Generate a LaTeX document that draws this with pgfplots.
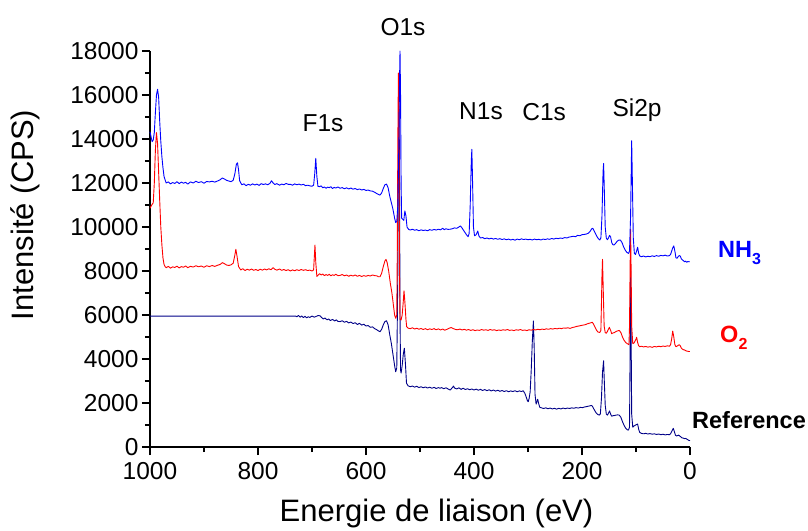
\documentclass[border=0pt]{standalone}
\usepackage{fontspec}
\setmainfont{Liberation Sans}
\usepackage{pgfplots}
\pgfplotsset{compat=1.18}
\definecolor{navyref}{RGB}{0,0,135}
\begin{document}
\begin{tikzpicture}
\begin{axis}[
  scale only axis, width=540pt, height=396pt,
  xmin=0, xmax=1000, ymin=0, ymax=18000,
  x dir=reverse,
  axis x line*=bottom, axis y line*=left,
  axis line style={line width=1.5pt,-},
  tick align=outside,
  xtick={0,200,...,1000}, ytick={0,2000,...,18000},
  minor x tick num=1, minor y tick num=1,
  major tick length=8pt, minor tick length=5pt,
  every tick/.style={line width=1.5pt,black},
  /pgf/number format/assume math mode=true,
  /pgf/number format/set thousands separator={},
  scaled ticks=false,
  tick label style={font=\fontsize{24.5}{28}\selectfont},
  xticklabel style={yshift=-4pt},
  xlabel={Energie de liaison (eV)},
  ylabel={Intensité (CPS)},
  label style={font=\fontsize{31}{36}\selectfont},
  xlabel style={at={(axis description cs:0.5306,-0.1667)},anchor=center},
  ylabel style={at={(axis description cs:-0.2315,0.586)},anchor=center},
  clip=false,
  every axis plot/.append style={line width=0.9pt, line join=round},
]
% Reference
\addplot[navyref] coordinates {
(1000,5950)(730,5950)(728,5920)(725,5980)(722,5900)(719,5960)(716,5880)(713,5940)(710,5870)(707,5920)(704,5890)(700,5950)(696,5900)(692,5940)(688,5980)(685,5960)(682,5880)(679,5820)(676,5860)(672,5780)(669,5820)(666,5750)(662,5800)(658,5730)(655,5780)(652,5710)(648,5700)(644,5740)(640,5670)(636,5710)(632,5640)(628,5680)(624,5610)(620,5650)(616,5570)(612,5620)(608,5540)(604,5580)(600,5500)(596,5520)(592,5440)(588,5460)(584,5380)(580,5330)(577,5280)(574,5240)(571,5350)(568,5550)(565,5700)(562,5740)(559,5550)(556,5100)(553,4700)(550,4200)(547,3700)(545,3420)(543,3600)(541,8000)(540,13000)(539,16000)(538,13000)(537,6000)(536,3500)(535,3360)(533,3700)(531,4200)(529,4490)(527,3800)(525,2900)(522,2780)(518,2740)(514,2770)(510,2720)(506,2760)(502,2700)(498,2740)(494,2690)(490,2730)(486,2680)(482,2720)(478,2670)(474,2710)(470,2660)(466,2700)(463,2670)(460,2700)(456,2650)(452,2690)(448,2640)(444,2590)(440,2700)(438,2770)(436,2680)(432,2640)(428,2690)(424,2620)(420,2670)(416,2610)(412,2650)(408,2600)(404,2640)(400,2590)(396,2630)(392,2580)(388,2620)(384,2570)(380,2610)(376,2560)(372,2600)(368,2550)(364,2590)(360,2540)(356,2580)(352,2530)(348,2570)(344,2520)(340,2560)(336,2510)(332,2550)(328,2520)(324,2560)(320,2510)(316,2550)(312,2520)(309,2560)(306,2450)(303,2250)(301,2100)(299.5,2060)(298,2200)(296,2500)(294,3500)(292,4800)(290,5730)(288.5,4500)(287,2400)(285,1950)(283,2100)(282,2170)(280,1950)(278,1800)(275,1780)(271,1750)(267,1780)(263,1740)(259,1770)(255,1730)(251,1760)(247,1720)(243,1760)(239,1730)(235,1770)(231,1740)(227,1770)(223,1750)(219,1780)(215,1760)(211,1790)(207,1770)(203,1800)(199,1790)(195,1820)(191,1840)(187,1860)(184,1880)(182,1890)(180,1820)(177,1680)(174,1560)(171,1480)(168,1450)(166,1500)(164,2200)(162,3400)(160,3920)(159,3200)(157,1900)(155,1500)(153,1450)(151,1530)(149,1640)(147,1500)(145,1400)(143,1420)(140,1430)(137,1450)(134,1460)(131,1450)(128,1350)(125,1150)(122,980)(119,850)(116,780)(114,770)(112,900)(111,4000)(110,8000)(109,5000)(108,1500)(106,900)(104,950)(102,980)(100,1010)(97,1045)(95,800)(93,660)(90,620)(86,600)(82,620)(78,590)(74,610)(70,580)(66,600)(62,570)(58,590)(54,560)(50,580)(46,550)(42,570)(38,560)(36,600)(34,700)(31,850)(29,700)(27,540)(25,500)(23,520)(21,540)(19,500)(17,460)(15,420)(12,400)(10,380)(8,390)(6,360)(4,330)(2,300)(0,290)
};
% O2
\addplot[red] coordinates {
(1000,10850)(998,10950)(996,11030)(994,11100)(992,12000)(990,13500)(988,14290)(986,13800)(984,12500)(982,11200)(980,10000)(978,9200)(976,8600)(974,8300)(972,8200)(970,8150)(966,8210)(962,8130)(958,8190)(954,8160)(950,8220)(946,8140)(942,8200)(938,8170)(934,8230)(930,8150)(925,8210)(920,8180)(915,8240)(910,8190)(905,8230)(900,8170)(895,8240)(890,8200)(885,8250)(880,8210)(875,8260)(870,8300)(866,8380)(862,8330)(858,8270)(854,8250)(850,8280)(846,8350)(843,8700)(841,8990)(839,8700)(836,8200)(832,8050)(828,8100)(824,8020)(820,8080)(816,8040)(812,8090)(808,8030)(804,8070)(800,8020)(796,8080)(792,8040)(788,8090)(784,8050)(780,8100)(776,8060)(772,8150)(769,8080)(765,8040)(760,8090)(756,8030)(752,8070)(748,8020)(744,8060)(740,8000)(736,8050)(732,8010)(728,8060)(724,8020)(720,8070)(716,8030)(712,8060)(708,8020)(704,8040)(700,8000)(697,8050)(696,8500)(694.5,9180)(693,8400)(691,7750)(689,7800)(686,7880)(683,7820)(680,7860)(677,7790)(674,7840)(671,7800)(668,7850)(665,7780)(662,7830)(659,7800)(656,7850)(652,7790)(648,7800)(644,7840)(640,7780)(636,7820)(632,7760)(628,7810)(624,7770)(620,7820)(616,7760)(612,7800)(608,7750)(604,7790)(600,7760)(596,7800)(592,7770)(588,7820)(584,7790)(580,7780)(577,7740)(574,7740)(571,7900)(568,8200)(565,8450)(563,8530)(561,8400)(558,8000)(555,7450)(552,7000)(549,6400)(547,6000)(545,5850)(543,6000)(542,9000)(541,14000)(540,17000)(539,15000)(538,8000)(537,5800)(535,5770)(533,6000)(531,6600)(529.6,7100)(528,6600)(526,5800)(524.7,5470)(522,5400)(518,5380)(514,5420)(510,5360)(506,5400)(502,5350)(498,5390)(494,5340)(490,5380)(486,5330)(482,5370)(478,5340)(474,5380)(470,5330)(466,5370)(462,5320)(458,5360)(454,5310)(450,5350)(446,5400)(442,5430)(438,5380)(434,5340)(430,5330)(426,5360)(422,5320)(418,5350)(414,5310)(410,5340)(406,5300)(402,5330)(398,5290)(394,5320)(390,5300)(386,5340)(382,5310)(378,5330)(374,5300)(370,5340)(366,5310)(362,5330)(358,5290)(354,5320)(350,5300)(346,5330)(342,5310)(338,5340)(334,5300)(330,5320)(326,5290)(322,5330)(318,5310)(314,5340)(310,5300)(306,5320)(302,5290)(298,5330)(294,5310)(290,5340)(286,5320)(282,5350)(278,5330)(274,5360)(270,5340)(266,5370)(262,5350)(258,5380)(254,5360)(250,5390)(246,5370)(242,5400)(238,5380)(234,5410)(230,5400)(226,5420)(222,5390)(218,5430)(214,5450)(210,5480)(206,5500)(202,5520)(198,5540)(194,5560)(190,5600)(186,5630)(183,5650)(181,5670)(179,5600)(176,5450)(173,5300)(170,5220)(167,5210)(165,5300)(164,6500)(163,7800)(162,8530)(161,7500)(159,5500)(157,5200)(155,5170)(153,5250)(151,5350)(149.4,5440)(147,5300)(145,5150)(143,5180)(140,5200)(137,5250)(134,5280)(131,5300)(128,5200)(125,5000)(122,4850)(119,4750)(117,4710)(115,4680)(113,4650)(112,5500)(111,8000)(110,9890)(109,8000)(108,5500)(106,4700)(104,4720)(102,4800)(100,4900)(98.8,4990)(97,4750)(95,4600)(93,4560)(90,4580)(86,4550)(82,4570)(78,4540)(74,4560)(70,4530)(66,4570)(62,4550)(58,4580)(54,4560)(50,4590)(46,4570)(42,4600)(38,4580)(36,4650)(34,4900)(32,5270)(30,5000)(28,4650)(26,4560)(24,4580)(22,4620)(20,4650)(18,4600)(16,4500)(14,4450)(12,4420)(10,4410)(8,4380)(6,4360)(4,4350)(2,4340)(0,4340)
};
% NH3
\addplot[blue] coordinates {
(1000,14330)(998,14100)(996,13880)(994,13950)(992,14300)(990,15200)(988,16000)(986,16260)(984,15900)(982,14800)(980,13900)(978,13200)(976,12700)(974,12300)(972,12140)(970,12000)(966,12050)(962,11960)(958,12020)(954,11980)(950,12060)(946,11970)(942,12040)(938,11990)(934,12030)(930,11950)(925,12050)(920,12000)(915,12080)(910,12020)(905,12060)(900,11990)(895,12070)(890,12050)(885,12080)(880,12040)(875,12090)(870,12150)(866,12230)(862,12180)(858,12120)(854,12090)(850,12060)(846,12120)(843,12400)(840,12850)(838,12920)(836,12600)(834,12100)(830,11920)(826,11960)(822,11880)(818,11940)(814,11900)(810,11960)(806,11910)(802,11950)(798,11890)(794,11970)(790,11930)(786,11960)(782,11920)(778,11980)(775,12100)(772,12000)(769,11930)(765,11970)(760,11900)(756,11950)(752,11920)(748,11980)(744,11940)(740,11940)(736,11900)(732,11960)(728,11920)(724,11950)(720,11910)(716,11940)(712,11880)(708,11900)(704,11870)(700,11850)(697,11900)(695,12400)(693,13120)(691,12300)(689,11850)(686,11830)(683,11870)(680,11780)(677,11820)(674,11760)(671,11810)(668,11790)(665,11830)(662,11750)(659,11800)(656,11770)(652,11820)(648,11760)(644,11790)(640,11740)(636,11780)(632,11730)(628,11770)(624,11720)(620,11750)(616,11700)(612,11730)(608,11680)(604,11710)(600,11660)(596,11680)(592,11640)(588,11630)(584,11580)(580,11520)(577,11480)(574,11450)(571,11550)(568,11750)(565,11920)(562,11950)(559,11780)(556,11400)(553,11100)(550,10800)(547,10400)(545,10200)(543,10250)(541,11000)(539,14000)(538,16500)(537,18000)(536,16000)(535,12000)(534,10400)(532,10350)(530,10300)(528,10730)(526,10500)(524,10000)(521,9890)(518,9860)(514,9900)(510,9850)(506,9880)(502,9830)(498,9870)(494,9840)(490,9860)(486,9830)(482,9880)(478,9850)(474,9890)(470,9860)(466,9900)(462,9870)(458,9940)(455,9880)(452,9920)(448,9890)(444,9900)(440,9920)(436,9960)(432,9940)(428,10000)(425,10050)(422,9950)(418,9800)(414,9650)(411,9560)(409,9700)(407,11000)(405,13000)(404,13530)(403,12500)(401,10000)(399,9600)(396,9650)(393,9820)(391,9600)(388,9500)(384,9520)(380,9470)(376,9500)(372,9460)(368,9490)(364,9450)(360,9480)(356,9440)(352,9470)(348,9430)(344,9460)(340,9420)(336,9450)(332,9410)(328,9440)(324,9400)(320,9450)(316,9420)(312,9460)(308,9430)(304,9450)(300,9420)(296,9440)(292,9410)(288,9450)(284,9420)(280,9440)(276,9410)(272,9450)(268,9430)(264,9460)(260,9440)(256,9480)(252,9450)(248,9490)(244,9470)(240,9500)(236,9480)(232,9520)(228,9500)(224,9540)(220,9560)(216,9580)(212,9560)(208,9620)(204,9600)(200,9650)(196,9660)(192,9680)(188,9720)(185,9800)(182,9920)(180,9940)(178,9850)(175,9700)(172,9550)(169,9450)(167,9410)(165,9500)(163,10500)(161,12500)(160,12890)(159,12000)(157,10000)(155,9500)(153,9420)(151,9500)(149,9620)(147,9550)(145,9300)(143,9200)(141,9180)(138,9250)(135,9350)(132,9400)(129,9410)(126,9300)(123,9100)(120,8950)(117,8850)(114,8800)(112,8900)(110,10500)(108,13920)(107,12500)(105,9500)(103,8800)(101,8750)(99,8900)(97,9080)(95,8800)(93,8680)(90,8650)(86,8680)(82,8640)(78,8670)(74,8650)(70,8690)(66,8660)(62,8700)(58,8670)(54,8710)(50,8690)(46,8720)(42,8680)(38,8700)(36,8750)(34,8900)(32,9050)(30,9140)(28,8900)(26,8600)(24,8580)(22,8650)(20,8700)(18,8680)(16,8550)(14,8500)(12,8470)(10,8420)(8,8450)(6,8400)(4,8430)(2,8420)(0,8420)
};
\begin{scope}[every node/.style={font=\fontsize{24.5}{28}\selectfont, inner sep=0pt}]
\node at (axis cs:679.6,14730) {F1s};
\node at (axis cs:531.5,19090) {O1s};
\node at (axis cs:387,15270) {N1s};
\node at (axis cs:270,15230) {C1s};
\node at (axis cs:98,15320) {Si2p};
\end{scope}
\begin{scope}[every node/.style={font=\fontsize{23.5}{28}\selectfont\bfseries, inner sep=0pt, anchor=west}]
\node[text=blue] at (axis cs:-51.9,8820) {NH\raisebox{-7pt}{\fontsize{16}{18}\selectfont 3}};
\node[text=red] at (axis cs:-55.6,4950) {O\raisebox{-7pt}{\fontsize{16}{18}\selectfont 2}};
\node at (axis cs:-3.7,1230) {Reference};
\end{scope}
\end{axis}
\path (-150pt,-81pt) rectangle (658pt,447pt);
\end{tikzpicture}
\end{document}
